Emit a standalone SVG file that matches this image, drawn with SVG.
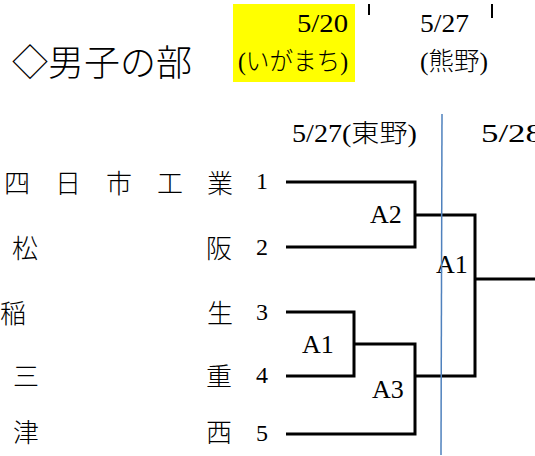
<svg xmlns="http://www.w3.org/2000/svg" width="535" height="456" viewBox="0 0 535 456">
<style>
text{font-family:"Liberation Serif","Noto Sans CJK JP",serif;fill:#000;font-weight:300}
.t{font-size:36px}
.h{font-size:25px}
.n{font-size:26px}
.d{font-size:24px}
.a{font-size:26px}
.br{fill:none;stroke:#000;stroke-width:3}
.tick{stroke:#000;stroke-width:2}
</style>
<rect width="535" height="456" fill="#fff"/>
<g id="title"><text class="t" x="12" y="76">◇男子の部</text></g>
<g id="header">
<rect x="233" y="4" width="122" height="78" fill="#ffff00"/>
<text class="h" x="297" y="32" textLength="51" lengthAdjust="spacingAndGlyphs">5/20</text>
<text class="h" x="238" y="70" textLength="110" lengthAdjust="spacingAndGlyphs">(いがまち)</text>
<line class="tick" x1="369" y1="4" x2="369" y2="15"/>
<text class="h" x="420" y="32" textLength="49" lengthAdjust="spacingAndGlyphs">5/27</text>
<text class="h" x="420" y="70" textLength="68" lengthAdjust="spacingAndGlyphs">(熊野)</text>
<line class="tick" x1="492" y1="4" x2="492" y2="18"/>
<text class="h" x="292" y="142" textLength="125" lengthAdjust="spacingAndGlyphs">5/27(東野)</text>
<text class="h" x="481" y="142" textLength="62" lengthAdjust="spacingAndGlyphs">5/28</text>
</g>
<g id="team1">
<text class="n" x="4" y="193">四</text><text class="n" x="55" y="193">日</text><text class="n" x="106" y="193">市</text><text class="n" x="157" y="193">工</text><text class="n" x="233" y="193" text-anchor="end">業</text>
<text class="d" x="256" y="189">1</text>
</g>
<g id="team2">
<text class="n" x="12" y="258">松</text><text class="n" x="232" y="258" text-anchor="end">阪</text>
<text class="d" x="256" y="255">2</text>
</g>
<g id="team3">
<text class="n" x="0" y="323">稲</text><text class="n" x="233" y="323" text-anchor="end">生</text>
<text class="d" x="256" y="320">3</text>
</g>
<g id="team4">
<text class="n" x="13" y="386">三</text><text class="n" x="232" y="386" text-anchor="end">重</text>
<text class="d" x="256" y="383">4</text>
</g>
<g id="team5">
<text class="n" x="13" y="442">津</text><text class="n" x="232" y="442" text-anchor="end">西</text>
<text class="d" x="256" y="441">5</text>
</g>
<g id="connectors">
<path class="br" d="M286,182 H415 V247 H286"/>
<path class="br" d="M286,312 H354 V376 H286"/>
<path class="br" d="M354,344 H415 V434 H286"/>
<path class="br" d="M415,215 H475 V376 H415"/>
<path class="br" d="M475,279 H535"/>
</g>
<g id="matchA2"><text class="a" x="370" y="223">A2</text></g>
<g id="matchA1a"><text class="a" x="302" y="353">A1</text></g>
<g id="matchA3"><text class="a" x="372" y="398">A3</text></g>
<g id="matchA1b"><text class="a" x="436" y="273">A1</text></g>
<g id="divider"><line x1="442" y1="114" x2="441" y2="455" stroke="#4f81bd" stroke-width="1.5"/></g>
</svg>
